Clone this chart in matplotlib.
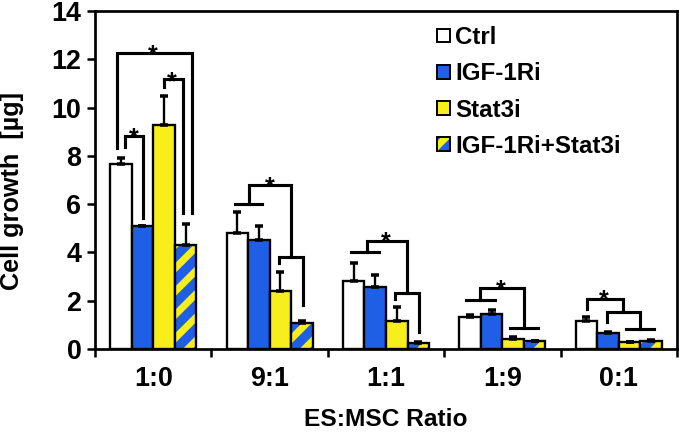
import matplotlib
matplotlib.use("Agg")
import matplotlib.pyplot as plt
import numpy as np
from matplotlib.patches import Patch
from matplotlib.legend_handler import HandlerTuple

# ---- data ----
ratios = ["1:0", "9:1", "1:1", "1:9", "0:1"]
series = ["Ctrl", "IGF-1Ri", "Stat3i", "IGF-1Ri+Stat3i"]

ctrl = [7.65, 4.82, 2.83, 1.34, 1.15]
ctrl_err = [0.25, 0.86, 0.72, 0.07, 0.16]
igf = [5.10, 4.52, 2.58, 1.45, 0.66]
igf_err = [0.0, 0.58, 0.49, 0.17, 0.04]
stat = [9.28, 2.40, 1.17, 0.43, 0.29]
stat_err = [1.20, 0.79, 0.56, 0.08, 0.0]
combo = [4.31, 1.09, 0.26, 0.32, 0.34]
combo_err = [0.86, 0.08, 0.02, 0.02, 0.03]

# significance brackets: (group, polyline of (offset from group centre, value))
brackets = [
    (0, [(-0.311, 8.34), (-0.311, 12.27), (0.333, 12.27), (0.333, 5.62)]),
    (0, [(-0.239, 8.38), (-0.239, 8.82), (-0.088, 8.82), (-0.088, 5.41)]),
    (0, [(0.090, 10.84), (0.090, 11.18), (0.256, 11.18), (0.256, 5.62)]),
    (1, [(-0.300, 6.01), (-0.063, 6.01)]),
    (1, [(-0.178, 6.01), (-0.178, 6.79), (0.186, 6.79), (0.186, 3.82)]),
    (1, [(0.080, 3.55), (0.080, 3.82), (0.286, 3.82), (0.286, 1.82)]),
    (2, [(-0.303, 4.02), (-0.058, 4.02)]),
    (2, [(-0.166, 4.02), (-0.166, 4.49), (0.183, 4.49), (0.183, 2.31)]),
    (2, [(0.077, 2.06), (0.077, 2.31), (0.283, 2.31), (0.283, 0.72)]),
    (3, [(-0.309, 2.03), (-0.066, 2.03)]),
    (3, [(-0.195, 2.03), (-0.195, 2.51), (0.189, 2.51), (0.189, 0.86)]),
    (3, [(0.063, 0.86), (0.309, 0.86)]),
    (4, [(-0.277, 1.64), (-0.277, 2.06), (0.032, 2.06), (0.032, 1.52)]),
    (4, [(-0.100, 1.13), (-0.100, 1.52), (0.180, 1.52), (0.180, 0.83)]),
    (4, [(0.060, 0.83), (0.300, 0.83)]),
]
# asterisks: (group, offset, value at star centre)
stars = [(0, 0.0, 12.59), (0, -0.165, 9.15), (0, 0.164, 11.49),
         (1, 0.0, 7.13), (2, 0.0, 4.86), (3, -0.017, 2.86), (4, -0.126, 2.44)]

BLUE = "#1f5fe6"
YELLOW = "#f8ee1c"

plt.rcParams["font.family"] = ["Liberation Sans", "DejaVu Sans"]
plt.rcParams["font.weight"] = "bold"
plt.rcParams["hatch.linewidth"] = 3.6

DPI = 140
fig = plt.figure(figsize=(680 / DPI, 433 / DPI), dpi=DPI)
ax = fig.add_axes([95 / 680, 1 - 349 / 433, 582 / 680, 338 / 433])

x = np.arange(len(ratios))
w = 0.185
offs = np.array([-1.5, -0.5, 0.5, 1.5]) * w
ekw = dict(ecolor="black", elinewidth=1.2, capsize=2.0, capthick=1.8)
zeros = np.zeros(len(ratios))
edge_lw = 1.2

ax.bar(x + offs[0], ctrl, w, color="white", edgecolor="black", linewidth=edge_lw,
       yerr=[zeros, ctrl_err], error_kw=ekw, zorder=2)
ax.bar(x + offs[1], igf, w, color=BLUE, edgecolor="black", linewidth=edge_lw,
       yerr=[zeros, igf_err], error_kw=ekw, zorder=2)
ax.bar(x + offs[2], stat, w, color=YELLOW, edgecolor="black", linewidth=edge_lw,
       yerr=[zeros, stat_err], error_kw=ekw, zorder=2)
# hatched bar: blue face with yellow stripes, then black outline on top
ax.bar(x + offs[3], combo, w, color=BLUE, edgecolor=YELLOW, hatch="//",
       linewidth=0, zorder=2)
ax.bar(x + offs[3], combo, w, color="none", edgecolor="black", linewidth=edge_lw,
       yerr=[zeros, combo_err], error_kw=ekw, zorder=3)

for g, pts in brackets:
    px = [g + p[0] for p in pts]
    py = [p[1] for p in pts]
    ax.plot(px, py, color="black", lw=1.6, solid_joinstyle="miter",
            solid_capstyle="projecting", zorder=4)

for g, dx, v in stars:
    ax.annotate("*", (g + dx, v), xytext=(0, -5.5), textcoords="offset points",
                ha="center", va="center", fontsize=13, fontweight="bold")

ax.set_xlim(-0.5, 4.5)
ax.set_ylim(0, 14)
ax.set_yticks(np.arange(0, 15, 2))
ax.set_xticks(x)
ax.set_xticklabels(ratios)
ax.set_xticks(np.arange(-0.5, 5, 1), minor=True)
ax.tick_params(axis="x", which="major", length=0, labelsize=13.8, pad=9)
ax.tick_params(axis="x", which="minor", length=4, width=1.3, direction="out")
ax.tick_params(axis="y", length=4, width=1.3, direction="out", labelsize=13.8, pad=3)
for s in ax.spines.values():
    s.set_linewidth(1.4)

ax.set_xlabel("ES:MSC Ratio", fontsize=12.6, fontweight="bold", labelpad=8)
ax.set_ylabel("Cell growth  [\u00b5g]", fontsize=13, fontweight="bold")
ax.yaxis.set_label_coords(-0.122, 1 - 180 / 338)

handles = [
    Patch(facecolor="white", edgecolor="black", linewidth=1.0),
    Patch(facecolor=BLUE, edgecolor="black", linewidth=1.0),
    Patch(facecolor=YELLOW, edgecolor="black", linewidth=1.0),
    (Patch(facecolor=BLUE, edgecolor=YELLOW, hatch="//", linewidth=0),
     Patch(facecolor="none", edgecolor="black", linewidth=1.0)),
]
ax.legend(handles, series, loc="upper left", bbox_to_anchor=(437 / 680, 1 - 26 / 433),
          bbox_transform=fig.transFigure, frameon=False,
          prop={"weight": "bold", "size": 12.4},
          handlelength=0.55, handleheight=0.5, handletextpad=0.2,
          labelspacing=0.55, borderpad=0, borderaxespad=0,
          handler_map={tuple: HandlerTuple(ndivide=1, pad=0)})

fig.savefig("out.png", dpi=DPI)
